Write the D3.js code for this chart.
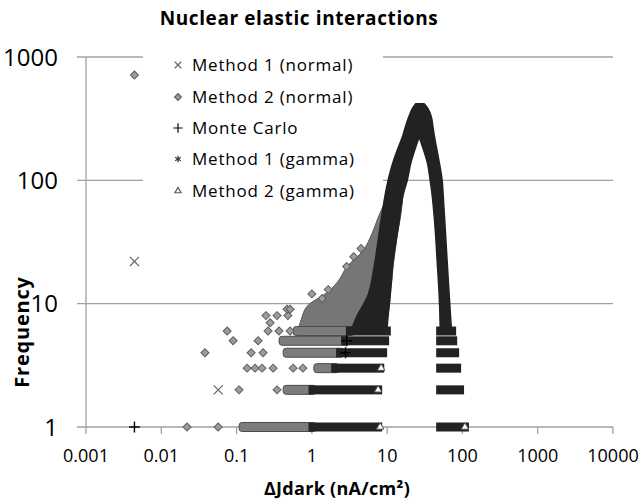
<!DOCTYPE html>
<html>
<head>
<meta charset="utf-8">
<script src="https://cdn.jsdelivr.net/npm/d3@7"></script>
<style>
  body { margin: 0; background: #fff; }
  text { font-family: 'Open Sans', sans-serif; fill: #000; }
</style>
</head>
<body>
<div id="chart"></div>
<script>
const xTicks = [0.001, 0.01, 0.1, 1, 10, 100, 1000, 10000]
const xTickLabels = ['0.001', '0.01', '0.1', '1', '10', '100', '1000', '10000']
const yTicks = [1, 10, 100, 1000]
const seriesNames = ['Method 1 (normal)', 'Method 2 (normal)', 'Monte Carlo', 'Method 1 (gamma)', 'Method 2 (gamma)']

// isolated markers, [dJdark, frequency]
const method1Normal = [[0.0044, 22], [0.057, 2]]
const method2Normal = [[0.0044, 715], [0.022, 1], [0.057, 1], [0.108, 2], [0.345, 2],
  [0.138, 3], [0.176, 3], [0.218, 3], [0.306, 3], [0.564, 3], [0.76, 3],
  [0.038, 4], [0.156, 4], [0.225, 4], [0.09, 5], [0.193, 5],
  [0.075, 6], [0.262, 6], [0.366, 6], [0.514, 6], [0.279, 7],
  [0.246, 8], [0.345, 8], [0.48, 8], [0.469, 9], [0.514, 9],
  [1.0, 12], [1.37, 11], [1.65, 13], [2.9, 20], [3.6, 24], [4.5, 28]]
const monteCarlo = [[0.0044, 1], [2.8, 4], [2.9, 5]]
const method2Gamma = [[8.07, 1], [7.59, 2], [8.32, 3], [108, 1]]

// rows of overlapping markers at low counts, [frequency, from, to]
const mixedRows = [[1, 0.122, 1.02], [2, 0.47, 1.02], [3, 1.2, 2.05], [4, 0.47, 2.37], [5, 0.415, 2.77], [6, 0.64, 3.2]]
const blackRowsLow = [[1, 1.02, 7.6], [2, 1.02, 7.6], [3, 2.04, 8.1], [4, 2.37, 8.85], [5, 2.77, 9.4], [6, 3.2, 9.9]]
const blackRowsHigh = [[1, 50.6, 108], [2, 50.6, 93], [3, 50.6, 85], [4, 50.6, 80], [5, 50.6, 75.4], [6, 50.6, 73]]

// outline of the dense cloud above f = 6, [frequency, left, right]
const grayCloud = [[6, 0.64, 9.9], [7, 0.7, 10], [9, 0.81, 10.5], [10, 0.94, 10.8], [12, 1.5, 11],
  [15, 2.2, 11.5], [20, 2.94, 12], [27, 4.8, 12.8], [37, 6.3, 13.7], [50, 7.6, 15], [69, 9.6, 16]]
const leftBranch = [[6, 3.3, 9.9], [8, 4.0, 10.3], [11.8, 5.6, 11.0], [22, 6.9, 12.0], [41, 8.0, 14.0],
  [76, 9.4, 16.3], [100, 10.3, 18.5], [141, 12.0, 20.8], [225, 16.0, 26.6]]
const rightBranch = [[6, 50.6, 72], [6.7, 50.6, 70.8], [11.8, 49.1, 66.7], [22, 46.2, 62.7], [41, 43.4, 59],
  [76, 39.6, 55.5], [100, 37.3, 53.8], [141, 34, 49.1], [225, 26.6, 42.5]]
const peakCap = [[225, 16.0, 42.5], [266, 17.3, 40.8], [330, 19.5, 38.5], [380, 21.5, 35], [417, 24, 31]]

const width = 641
const height = 503

const svg = d3.select('#chart')
  .append('svg')
  .attr('width', width)
  .attr('height', height)

const x = d3.scaleLog().domain([0.001, 10000]).range([86, 613])
const y = d3.scaleLog().domain([1, 1000]).range([427, 57])

const gridColor = '#a0a0a0'

// gridlines + axes
svg.selectAll('.grid')
  .data(yTicks)
  .enter()
  .append('line')
  .attr('x1', 77)
  .attr('x2', 613)
  .attr('y1', d => y(d))
  .attr('y2', d => y(d))
  .attr('stroke', gridColor)
  .attr('stroke-width', 1.3)

svg.append('line')
  .attr('x1', 86).attr('x2', 86)
  .attr('y1', y(1000)).attr('y2', y(1))
  .attr('stroke', gridColor)
  .attr('stroke-width', 1.3)

svg.selectAll('.xtick')
  .data(xTicks)
  .enter()
  .append('line')
  .attr('x1', d => x(d))
  .attr('x2', d => x(d))
  .attr('y1', y(1))
  .attr('y2', y(1) + 7)
  .attr('stroke', gridColor)
  .attr('stroke-width', 1.3)

svg.selectAll('.xlabel')
  .data(xTicks)
  .enter()
  .append('text')
  .attr('x', d => x(d))
  .attr('y', 462)
  .attr('text-anchor', 'middle')
  .style('font-size', '18px')
  .text((d, i) => xTickLabels[i])

svg.selectAll('.ylabel')
  .data(yTicks)
  .enter()
  .append('text')
  .attr('x', 58)
  .attr('y', d => y(d) + 8.5)
  .attr('text-anchor', 'end')
  .style('font-size', '24px')
  .text(d => d)

// dense regions, drawn top-down so the curve runs one way
const band = d3.area()
  .y(d => y(d[0]))
  .x0(d => x(d[1]))
  .x1(d => x(d[2]))
  .curve(d3.curveCatmullRom.alpha(0.5))

const topDown = part => part.slice().sort((a, b) => b[0] - a[0])

svg.append('path')
  .attr('d', band(topDown(grayCloud)))
  .attr('fill', '#767676')
  .attr('stroke', '#5a5a5a')

svg.selectAll('.mixed')
  .data(mixedRows)
  .enter()
  .append('rect')
  .attr('x', d => x(d[1]) - 4)
  .attr('width', d => x(d[2]) - x(d[1]) + 8)
  .attr('y', d => y(d[0]) - 4.5)
  .attr('height', 9)
  .attr('rx', 3)
  .attr('fill', '#7c7c7c')
  .attr('stroke', '#4c4c4c')

const diamond = d3.symbol().type(d3.symbolSquare).size(32)
svg.selectAll('.m2n')
  .data(method2Normal)
  .enter()
  .append('path')
  .attr('d', diamond)
  .attr('transform', d => `translate(${x(d[0])},${y(d[1])}) rotate(45)`)
  .attr('fill', '#9c9c9c')
  .attr('stroke', '#5e5e5e')

svg.selectAll('.m1n')
  .data(method1Normal)
  .enter()
  .append('path')
  .attr('d', d3.symbol().type(d3.symbolTimes).size(55))
  .attr('transform', d => `translate(${x(d[0])},${y(d[1])})`)
  .attr('fill', 'none')
  .attr('stroke', '#666')
  .attr('stroke-width', 1.2)

const black = '#222'
svg.selectAll('.rowLow')
  .data(blackRowsLow.concat(blackRowsHigh))
  .enter()
  .append('rect')
  .attr('x', d => x(d[1]) - 4)
  .attr('width', d => x(d[2]) - x(d[1]) + 8)
  .attr('y', d => y(d[0]) - 4.5)
  .attr('height', 9)
  .attr('fill', black)

;[leftBranch, rightBranch, peakCap].forEach(part => {
  svg.append('path')
    .attr('d', band(topDown(part)))
    .attr('fill', black)
    .attr('stroke', black)
    .attr('stroke-width', 1.5)
})

svg.selectAll('.mc')
  .data(monteCarlo)
  .enter()
  .append('path')
  .attr('d', d3.symbol().type(d3.symbolPlus).size(40))
  .attr('transform', d => `translate(${x(d[0])},${y(d[1])})`)
  .attr('fill', 'none')
  .attr('stroke', '#000')
  .attr('stroke-width', 1.4)

svg.selectAll('.m2g')
  .data(method2Gamma)
  .enter()
  .append('path')
  .attr('d', d3.symbol().type(d3.symbolTriangle2).size(40))
  .attr('transform', d => `translate(${x(d[0])},${y(d[1])})`)
  .attr('fill', '#fff')
  .attr('stroke', '#555')

// legend
svg.append('rect')
  .attr('x', 143)
  .attr('y', 48)
  .attr('width', 240)
  .attr('height', 152)
  .attr('fill', '#fff')

const legendY = [65, 97, 128, 159, 191]
const legendSymbols = [
  { type: d3.symbolTimes, size: 30, fill: 'none', stroke: '#666' },
  { type: d3.symbolSquare, size: 22, fill: '#9c9c9c', stroke: '#5e5e5e', rot: 45 },
  { type: d3.symbolPlus, size: 30, fill: 'none', stroke: '#000' },
  { type: d3.symbolAsterisk, size: 30, fill: 'none', stroke: '#333' },
  { type: d3.symbolTriangle2, size: 26, fill: '#fff', stroke: '#555' }
]

const legend = svg.selectAll('.legend')
  .data(seriesNames)
  .enter()
  .append('g')
  .attr('transform', (d, i) => `translate(178,${legendY[i]})`)

legend.append('path')
  .attr('d', (d, i) => d3.symbol().type(legendSymbols[i].type).size(legendSymbols[i].size)())
  .attr('transform', (d, i) => legendSymbols[i].rot ? 'rotate(45)' : null)
  .attr('fill', (d, i) => legendSymbols[i].fill)
  .attr('stroke', (d, i) => legendSymbols[i].stroke)
  .attr('stroke-width', 1.2)

legend.append('text')
  .attr('x', 14)
  .attr('y', 6)
  .style('font-size', '17px')
  .style('letter-spacing', '0.8px')
  .text(d => d)

// titles
svg.append('text')
  .attr('x', 299)
  .attr('y', 25)
  .attr('text-anchor', 'middle')
  .style('font-size', '19px')
  .style('font-weight', 'bold')
  .style('letter-spacing', '0.6px')
  .text('Nuclear elastic interactions')

svg.append('text')
  .attr('transform', 'translate(29,332) rotate(-90)')
  .attr('text-anchor', 'middle')
  .style('font-size', '20px')
  .style('font-weight', 'bold')
  .style('letter-spacing', '0.8px')
  .text('Frequency')

svg.append('text')
  .attr('x', 337)
  .attr('y', 495)
  .attr('text-anchor', 'middle')
  .style('font-size', '18px')
  .style('font-weight', 'bold')
  .style('letter-spacing', '0.3px')
  .text('ΔJdark (nA/cm²)')
</script>
</body>
</html>
